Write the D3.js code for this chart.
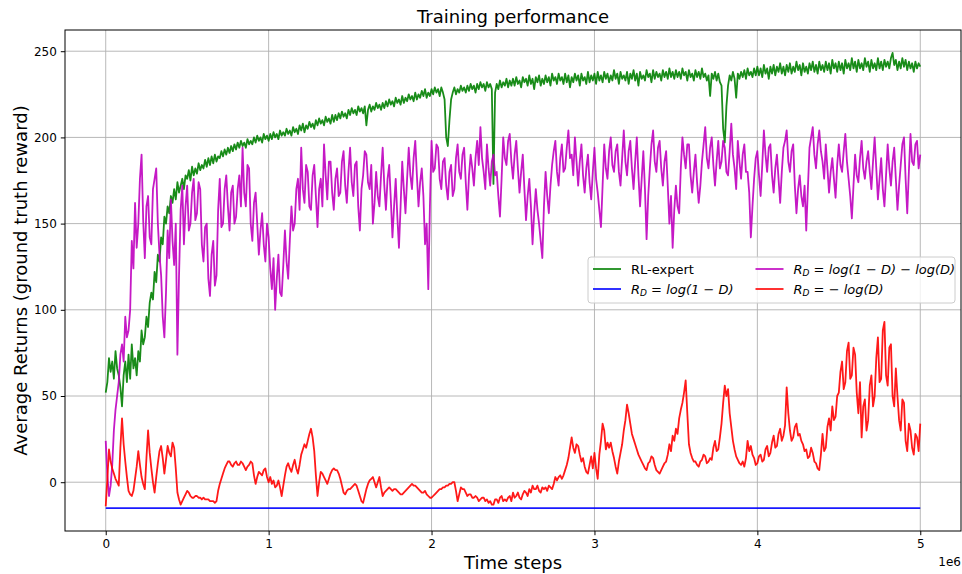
<!DOCTYPE html>
<html lang="en">
<head>
<meta charset="UTF-8">
<title>Training performance</title>
<script src="https://d3js.org/d3.v7.min.js"></script>
<style>
    body { margin: 0; background: #fff; }
    svg { display: block; font-family: "DejaVu Sans", sans-serif; }
</style>
</head>
<body>
<div id="chart"></div>
<script>
    // one value every 10k time steps, from 0 to 5e6 (10 values per line)
    const stepSize = 10000;

    const expertReturns = [
        52, 58, 72, 64, 70, 60, 76, 66, 62, 55,
        44, 62, 70, 58, 74, 60, 80, 66, 72, 62,
        76, 70, 88, 80, 84, 96, 90, 104, 110, 106,
        122, 116, 132, 128, 142, 138, 154, 150, 160, 156,
        166, 162, 170, 164, 174, 168, 172, 176, 170, 178,
        176, 181, 175, 183, 178, 182, 179, 185, 181, 184,
        182, 187, 183, 188, 184, 189, 185, 190, 186, 189,
        188, 192, 189, 193, 190, 194, 191, 195, 192, 196,
        193, 197, 194, 198, 195, 197, 194, 199, 196, 198,
        196, 200, 197, 201, 198, 200, 197, 202, 199, 201,
        198, 202, 199, 203, 200, 202, 199, 204, 201, 203,
        201, 205, 202, 204, 201, 206, 203, 205, 202, 207,
        204, 208, 203, 207, 205, 209, 206, 208, 205, 210,
        207, 211, 208, 210, 207, 212, 209, 211, 208, 213,
        209, 213, 210, 214, 211, 215, 212, 214, 211, 216,
        213, 217, 214, 216, 213, 218, 215, 217, 214, 218,
        207, 216, 219, 215, 218, 216, 220, 217, 219, 216,
        220, 217, 221, 218, 222, 219, 221, 218, 223, 220,
        222, 219, 224, 220, 223, 221, 225, 222, 224, 221,
        226, 222, 225, 223, 227, 224, 228, 223, 226, 224,
        228, 225, 229, 226, 228, 224, 229, 226, 222, 200,
        195, 210, 222, 226, 229, 225, 228, 226, 230, 227,
        229, 226, 230, 227, 231, 228, 230, 226, 231, 228,
        232, 229, 231, 227, 232, 229, 231, 228, 173, 226,
        231, 228, 233, 229, 232, 230, 234, 229, 233, 230,
        234, 230, 235, 231, 233, 229, 235, 232, 234, 230,
        236, 231, 234, 228, 235, 232, 236, 230, 234, 231,
        236, 232, 235, 230, 237, 233, 235, 231, 237, 233,
        235, 231, 237, 232, 236, 229, 235, 232, 237, 233,
        236, 230, 237, 233, 235, 231, 238, 232, 236, 233,
        237, 231, 238, 233, 236, 232, 238, 234, 237, 232,
        236, 233, 239, 234, 237, 231, 238, 234, 236, 233,
        238, 231, 237, 234, 239, 233, 237, 230, 238, 234,
        236, 233, 239, 235, 237, 232, 239, 234, 238, 235,
        237, 233, 239, 235, 238, 234, 240, 235, 238, 234,
        239, 235, 238, 234, 240, 236, 238, 233, 239, 235,
        237, 233, 239, 235, 238, 234, 240, 235, 237, 233,
        236, 224, 237, 234, 238, 233, 237, 232, 230, 205,
        197, 218, 230, 236, 233, 238, 234, 223, 237, 234,
        238, 235, 239, 234, 240, 236, 238, 235, 240, 236,
        241, 236, 240, 235, 242, 237, 240, 234, 241, 237,
        242, 236, 241, 238, 243, 237, 241, 236, 242, 238,
        243, 237, 241, 238, 244, 239, 242, 236, 243, 238,
        241, 237, 243, 239, 244, 238, 242, 237, 244, 239,
        242, 238, 244, 239, 243, 237, 245, 240, 243, 238,
        244, 239, 243, 237, 245, 240, 243, 239, 246, 240,
        244, 238, 245, 240, 243, 239, 246, 241, 244, 238,
        245, 240, 243, 239, 246, 240, 244, 239, 245, 241,
        244, 240, 246, 249, 242, 245, 239, 244, 240, 246,
        241, 245, 239, 244, 240, 243, 238, 244, 240, 243,
        241
    ];

    const logOneMinusDSteps = [0, 5000000];
    const logOneMinusDReturns = [-15, -15];

    const logRatioReturns = [
        24, 4, -8, -2, 10, 30, 42, 50, 58, 74,
        80, 70, 96, 84, 88, 100, 140, 124, 162, 136,
        150, 176, 190, 152, 130, 160, 166, 142, 138, 170,
        176, 182, 150, 132, 120, 96, 84, 110, 146, 130,
        164, 140, 126, 150, 74, 120, 158, 172, 138, 160,
        172, 146, 150, 168, 176, 152, 156, 174, 170, 138,
        128, 148, 150, 118, 108, 132, 140, 114, 120, 158,
        176, 148, 150, 170, 178, 160, 146, 168, 172, 150,
        154, 170, 178, 160, 194, 168, 160, 184, 182, 150,
        140, 162, 168, 150, 132, 146, 156, 138, 128, 150,
        142, 124, 112, 130, 100, 118, 132, 110, 108, 126,
        146, 128, 118, 140, 160, 146, 150, 170, 176, 158,
        194, 170, 162, 184, 180, 160, 158, 178, 184, 166,
        148, 170, 176, 160, 196, 178, 164, 186, 186, 168,
        158, 176, 182, 166, 168, 186, 192, 172, 162, 180,
        194, 174, 166, 184, 186, 160, 146, 170, 178, 192,
        190, 174, 170, 184, 150, 162, 180, 166, 160, 178,
        194, 172, 158, 176, 184, 164, 142, 160, 176, 154,
        136, 160, 186, 170, 156, 176, 194, 178, 170, 188,
        198, 178, 160, 174, 182, 166, 138, 150, 112, 160,
        198, 180, 182, 196, 194, 176, 170, 186, 188, 172,
        164, 180, 184, 166, 170, 188, 196, 180, 176, 190,
        194, 174, 158, 178, 190, 182, 172, 188, 198, 184,
        206, 188, 180, 170, 196, 182, 172, 186, 190, 178,
        180, 166, 154, 176, 200, 188, 184, 198, 202, 186,
        176, 190, 198, 182, 168, 180, 190, 170, 152, 166,
        176, 160, 138, 156, 170, 158, 150, 140, 130, 160,
        180, 166, 156, 172, 184, 192, 198, 180, 172, 188,
        196, 180, 182, 194, 204, 188, 190, 178, 200, 186,
        172, 186, 196, 178, 168, 182, 190, 174, 164, 180,
        194, 176, 168, 158, 148, 172, 196, 182, 176, 192,
        200, 184, 180, 192, 196, 180, 172, 188, 204, 186,
        178, 192, 198, 182, 170, 186, 200, 178, 160, 176,
        192, 170, 141, 166, 182, 196, 204, 186, 180, 194,
        198, 182, 172, 186, 192, 172, 150, 166, 136, 158,
        172, 160, 156, 182, 200, 190, 182, 196, 196, 178,
        168, 180, 190, 174, 162, 172, 186, 196, 206, 188,
        182, 194, 200, 184, 172, 186, 198, 182, 186, 198,
        194, 180, 178, 192, 208, 190, 182, 170, 198, 186,
        176, 190, 196, 180, 180, 168, 142, 160, 176, 188,
        192, 178, 166, 184, 204, 190, 180, 194, 196, 178,
        168, 182, 190, 176, 162, 180, 194, 198, 204, 186,
        180, 192, 196, 172, 156, 170, 178, 166, 160, 172,
        146, 170, 194, 200, 206, 190, 182, 196, 204, 192,
        186, 176, 196, 182, 168, 180, 188, 176, 165, 184,
        196, 184, 180, 192, 202, 186, 176, 166, 153, 172,
        190, 178, 174, 188, 198, 182, 176, 186, 192, 180,
        170, 186, 200, 182, 164, 176, 188, 170, 160, 178,
        196, 182, 172, 186, 194, 176, 158, 172, 184, 196,
        200, 176, 156, 180, 202, 186, 184, 196, 198, 182,
        190
    ];

    const negLogDReturns = [
        -14, 2, 19, 12, 8, 5, 2, 0, -2, 20,
        37, 22, 12, 3, -5, -7, -8, -5, 2, 9,
        18, 10, 3, -1, -4, 14, 30, 17, 8, 0,
        -6, 3, 11, 18, 21, 14, 5, 13, 21, 17,
        15, 23, 20, 8, -6, -10, -13, -11, -9, -7,
        -5, -6, -8, -9, -9, -8, -8, -9, -9, -10,
        -9, -10, -10, -10, -11, -11, -11, -12, -11, -5,
        -1, 2, 5, 8, 10, 12, 12, 10, 9, 11,
        12, 10, 10, 12, 11, 9, 7, 9, 10, 12,
        11, 4, -1, 3, 6, 5, 4, 7, 8, 3,
        0, 3, -1, 1, -3, -2, 1, -3, -8, -2,
        4, 9, 11, 8, 6, 10, 13, 8, 5, 10,
        16, 19, 22, 20, 24, 28, 31, 26, 18, 4,
        -8, 0, 6, 5, 3, 1, -1, 2, 5, 7,
        8, 7, 7, 5, 2, -2, -6, -7, -5, -4,
        -4, -3, -2, -1, -2, -5, -8, -11, -12, -8,
        -4, -1, 1, 2, 3, 0, -3, 0, 3, -3,
        -8, -6, -5, -4, -3, -4, -5, -4, -4, -5,
        -6, -7, -7, -6, -5, -4, -3, -2, -1, -2,
        -2, -3, -4, -5, -6, -6, -5, -7, -8, -9,
        -9, -8, -7, -6, -5, -4, -4, -3, -3, -2,
        -2, -1, -1, 0, 0, -5, -11, -7, -3, -4,
        -4, -6, -8, -7, -7, -9, -9, -8, -9, -11,
        -10, -9, -9, -11, -10, -12, -11, -13, -13, -10,
        -10, -12, -9, -8, -11, -10, -11, -9, -8, -11,
        -6, -9, -8, -6, -9, -10, -7, -5, -6, -8,
        -4, -6, -2, -4, -4, -2, -5, -6, -3, -4,
        -3, -5, -2, -3, -4, -1, 3, 1, 3, 4,
        2, 4, 7, 10, 14, 20, 26, 20, 17, 22,
        21, 16, 12, 14, 9, 6, 5, 10, 15, 8,
        17, 8, 2, 16, 24, 34, 30, 19, 23, 20,
        23, 18, 14, 9, 5, 12, 17, 22, 30, 36,
        45, 40, 34, 28, 25, 22, 19, 16, 14, 12,
        10, 8, 7, 11, 12, 15, 14, 10, 7, 6,
        5, 7, 9, 11, 12, 16, 22, 18, 27, 24,
        31, 28, 37, 42, 46, 52, 59, 40, 22, 17,
        14, 12, 12, 10, 9, 12, 13, 16, 15, 11,
        12, 14, 13, 20, 24, 18, 19, 26, 34, 46,
        56, 50, 54, 40, 32, 24, 19, 15, 13, 11,
        10, 12, 9, 14, 24, 18, 21, 16, 14, 10,
        11, 15, 16, 12, 13, 19, 21, 15, 17, 23,
        27, 20, 21, 28, 31, 24, 27, 33, 55, 40,
        30, 24, 26, 32, 34, 27, 28, 24, 22, 18,
        19, 14, 15, 20, 17, 12, 11, 8, 7, 16,
        28, 18, 20, 32, 37, 30, 44, 36, 38, 50,
        52, 64, 70, 54, 58, 76, 81, 60, 62, 78,
        74, 52, 40, 58, 26, 44, 48, 30, 36, 56,
        62, 44, 50, 72, 84, 58, 60, 88, 93, 62,
        56, 78, 80, 50, 44, 66, 50, 36, 30, 48,
        46, 24, 18, 34, 30, 20, 16, 28, 26, 18,
        34
    ];

    const seriesLabels = ["RL-expert", "R_D = log(1 − D)", "R_D = log(1 − D) − log(D)", "R_D = − log(D)"];
    const seriesColors = ["#008000", "#0000ff", "#bf00bf", "#ff0000"];

    const xTicks = [0, 1e6, 2e6, 3e6, 4e6, 5e6];
    const yTicks = [0, 50, 100, 150, 200, 250];

    const width = 962;
    const height = 574;
    const marginTop = 30;
    const marginRight = 1;
    const marginBottom = 43;
    const marginLeft = 65;

    const svg = d3.select("#chart")
        .append("svg")
        .attr("width", width)
        .attr("height", height);

    const x = d3.scaleLinear().domain([-0.25e6, 5.25e6]).range([marginLeft, width - marginRight]);
    const y = d3.scaleLinear().domain([-28.3, 262.3]).range([height - marginBottom, marginTop]);

    // grid
    svg.append("g")
        .selectAll("line")
        .data(xTicks)
        .join("line")
        .attr("x1", d => x(d)).attr("x2", d => x(d))
        .attr("y1", marginTop).attr("y2", height - marginBottom)
        .attr("stroke", "#b0b0b0").attr("stroke-width", 0.9);

    svg.append("g")
        .selectAll("line")
        .data(yTicks)
        .join("line")
        .attr("x1", marginLeft).attr("x2", width - marginRight)
        .attr("y1", d => y(d)).attr("y2", d => y(d))
        .attr("stroke", "#b0b0b0").attr("stroke-width", 0.9);

    const toPoints = vals => vals.map((v, i) => [i * stepSize, v]);
    const series = [
        toPoints(expertReturns),
        logOneMinusDSteps.map((s, i) => [s, logOneMinusDReturns[i]]),
        toPoints(logRatioReturns),
        toPoints(negLogDReturns)
    ];

    const line = d3.line()
        .x(d => x(d[0]))
        .y(d => y(d[1]));

    series.forEach((pts, i) => {
        svg.append("path")
            .datum(pts)
            .attr("fill", "none")
            .attr("stroke", seriesColors[i])
            .attr("stroke-opacity", 0.9)
            .attr("stroke-width", 1.8)
            .attr("stroke-linejoin", "round")
            .attr("d", line);
    });

    // axes
    svg.append("g")
        .attr("transform", `translate(0,${height - marginBottom})`)
        .call(d3.axisBottom(x).tickValues(xTicks).tickFormat(d => d / 1e6).tickSize(4.2).tickPadding(4))
        .call(g => g.select(".domain").remove())
        .call(g => g.selectAll("text").attr("font-size", 12).attr("font-family", "DejaVu Sans").attr("fill", "#000"));

    svg.append("g")
        .attr("transform", `translate(${marginLeft},0)`)
        .call(d3.axisLeft(y).tickValues(yTicks).tickSize(4.2).tickPadding(4))
        .call(g => g.select(".domain").remove())
        .call(g => g.selectAll("text").attr("font-size", 12).attr("font-family", "DejaVu Sans").attr("fill", "#000"));

    svg.append("rect")
        .attr("x", marginLeft).attr("y", marginTop)
        .attr("width", width - marginRight - marginLeft)
        .attr("height", height - marginBottom - marginTop)
        .attr("fill", "none").attr("stroke", "#000").attr("stroke-width", 1);

    svg.append("text")
        .attr("x", width - 1).attr("y", 566)
        .attr("text-anchor", "end").attr("font-size", 12)
        .text("1e6");

    svg.append("text")
        .attr("x", (marginLeft + width - marginRight) / 2).attr("y", 23)
        .attr("text-anchor", "middle").attr("font-size", 18)
        .text("Training performance");

    svg.append("text")
        .attr("x", (marginLeft + width - marginRight) / 2).attr("y", 569)
        .attr("text-anchor", "middle").attr("font-size", 18)
        .text("Time steps");

    svg.append("text")
        .attr("transform", `translate(27,${(marginTop + height - marginBottom) / 2}) rotate(-90)`)
        .attr("text-anchor", "middle").attr("font-size", 18)
        .text("Average Returns (ground truth reward)");

    // legend, two columns filled top to bottom
    const legend = svg.append("g").attr("transform", "translate(588,257)");
    legend.append("rect")
        .attr("width", 367).attr("height", 46).attr("rx", 3)
        .attr("fill", "#fff").attr("fill-opacity", 0.8)
        .attr("stroke", "#cccccc").attr("stroke-width", 1);

    function mathLabel(t, label) {
        if (!label.startsWith("R_D")) { t.text(label); return; }
        t.append("tspan").attr("font-style", "italic").text("R");
        t.append("tspan").attr("font-style", "italic").attr("font-size", 9).attr("dy", 2.7).text("D");
        t.append("tspan").attr("font-style", "italic").attr("dy", -2.7).text(label.slice(3));
    }

    seriesLabels.forEach((label, i) => {
        const col = Math.floor(i / 2), row = i % 2;
        const g = legend.append("g").attr("transform", `translate(${5 + col * 162.5},${12 + row * 20})`);
        g.append("line")
            .attr("x1", 0).attr("x2", 28)
            .attr("stroke", seriesColors[i]).attr("stroke-opacity", 0.9).attr("stroke-width", 1.8);
        const t = g.append("text")
            .attr("x", 38).attr("y", 4.6)
            .attr("font-size", 13);
        mathLabel(t, label);
    });
</script>
</body>
</html>
